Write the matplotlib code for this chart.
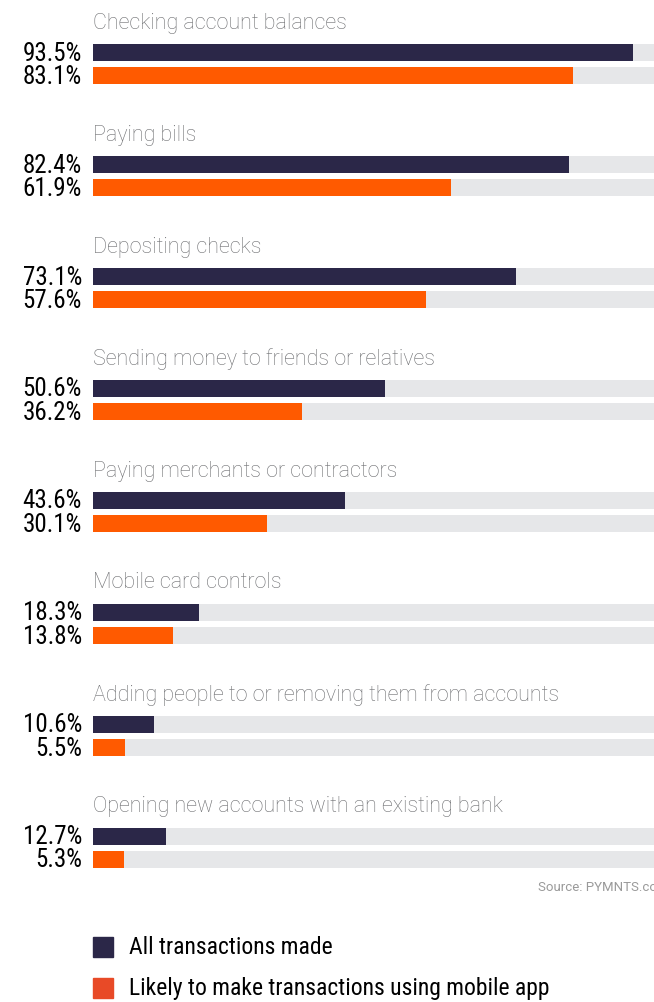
import matplotlib
matplotlib.use('Agg')
import matplotlib.pyplot as plt
from matplotlib.patches import Rectangle

categories = [
    'Checking account balances',
    'Paying bills',
    'Depositing checks',
    'Sending money to friends or relatives',
    'Paying merchants or contractors',
    'Mobile card controls',
    'Adding people to or removing them from accounts',
    'Opening new accounts with an existing bank',
]
all_made = [93.5, 82.4, 73.1, 50.6, 43.6, 18.3, 10.6, 12.7]
likely_app = [83.1, 61.9, 57.6, 36.2, 30.1, 13.8, 5.5, 5.3]
series_names = ['All transactions made', 'Likely to make transactions using mobile app']

DARK = '#2b2748'
ORANGE = '#ff5a00'
LEGEND_ORANGE = '#e84a27'
TRACK = '#e6e7e9'

W, H = 654, 1003
fig = plt.figure(figsize=(W / 100, H / 100), dpi=100)

# bar axes: 0..100% runs from x=93px to 671px (the right end falls off the canvas)
ax = fig.add_axes([93 / W, 0, 578 / W, 1])
ax.set_xlim(0, 100)
ax.set_ylim(H, 0)
ax.axis('off')

step = 112
bar_h = 17
for i, cat in enumerate(categories):
    top = 23 + i * step
    y1 = top + 30.5
    y2 = top + 53.5
    ax.barh([y1, y2], [100, 100], height=bar_h, color=TRACK)
    ax.barh(y1, all_made[i], height=bar_h, color=DARK)
    ax.barh(y2, likely_app[i], height=bar_h, color=ORANGE)
    ax.text(0, top, cat, fontsize=15.5, family='Roboto', weight='light',
            color='#6d6e71', va='center', ha='left')
    ax.text(-1.9, y1, f'{all_made[i]:.1f}%', fontsize=18,
            family='Roboto Condensed', color='black',
            va='center', ha='right')
    ax.text(-1.9, y2, f'{likely_app[i]:.1f}%', fontsize=18,
            family='Roboto Condensed', color='black',
            va='center', ha='right')

# source line runs past the right edge
fig.text(538 / W, 1 - 888 / H, 'Source: PYMNTS.com', fontsize=9.5,
         family='Roboto', color='#9a9a9a', va='center', ha='left')

# legend
for j, (name, c) in enumerate(zip(series_names, [DARK, LEGEND_ORANGE])):
    yc = 948 + j * 41
    fig.patches.append(Rectangle((93 / W, 1 - (yc + 10) / H), 20 / W, 20 / H,
                                 transform=fig.transFigure, color=c))
    fig.text(129 / W, 1 - yc / H, name, fontsize=17,
             family='Roboto Condensed', color='black',
             va='center', ha='left')

fig.savefig('out.png', dpi=100, facecolor='white')
